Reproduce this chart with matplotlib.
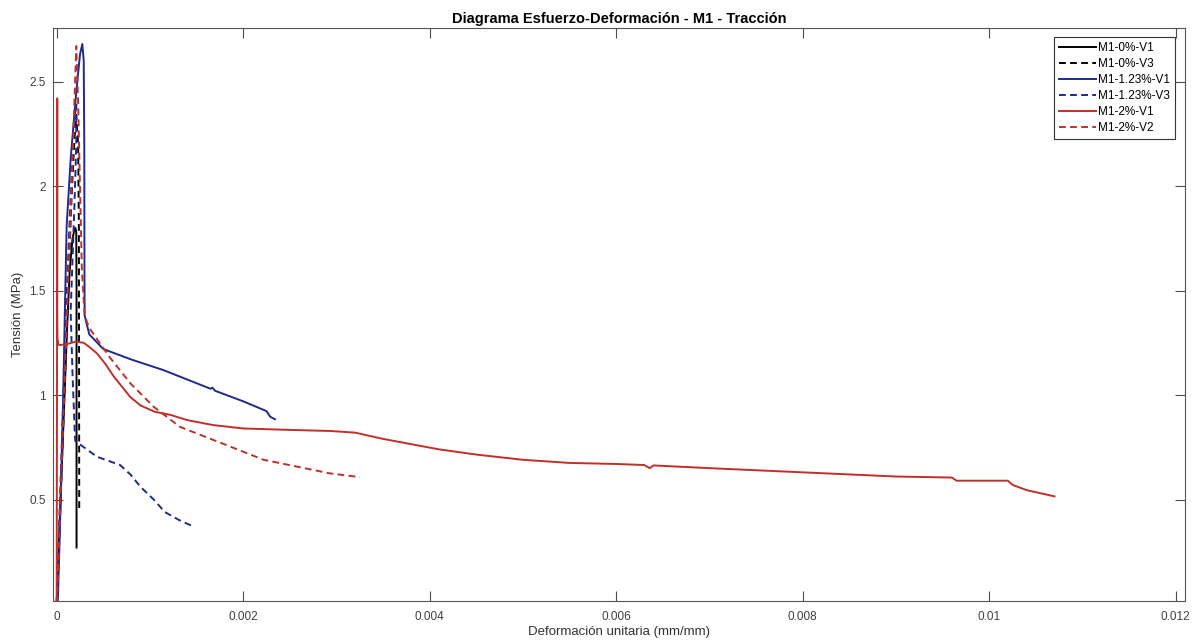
import matplotlib.pyplot as plt

# datos (deformacion, tension)
m0_v1_x = [0.0, 0.00002, 0.00005, 0.00008, 0.00011, 0.00014, 0.00017, 0.00019, 0.0002, 0.00021, 0.000213, 0.000213, 0.000213]
m0_v1_y = [0.0, 0.25, 0.6, 0.95, 1.3, 1.6, 1.75, 1.79, 1.80, 1.78, 1.5, 0.8, 0.27]

m0_v3_x = [0.0, 0.00002, 0.00005, 0.00009, 0.00013, 0.00016, 0.00019, 0.00021, 0.00023, 0.000238, 0.00024, 0.000241, 0.000242]
m0_v3_y = [0.0, 0.2, 0.6, 1.1, 1.6, 1.95, 2.22, 2.34, 2.2, 1.8, 1.2, 0.8, 0.45]

m123_v1_x = [0.00001, 0.000015, 0.000043, 0.00007, 0.00009, 0.000107, 0.00015, 0.00021, 0.00025, 0.000275, 0.00029,
             0.000296, 0.000298, 0.0003, 0.00035, 0.0005, 0.0008, 0.00114, 0.00165, 0.00167, 0.0017, 0.002, 0.00225,
             0.00229, 0.00234]
m123_v1_y = [0.0, 0.05, 0.5, 1.0, 1.45, 1.81, 2.13, 2.45, 2.63, 2.68, 2.6, 2.2, 1.6, 1.38, 1.29, 1.22, 1.17, 1.12,
             1.03, 1.035, 1.02, 0.97, 0.923, 0.896, 0.884]

m123_v3_x = [0.0, 0.00002, 0.00005, 0.00008, 0.00011, 0.00014, 0.00017, 0.00019, 0.00021, 0.00021, 0.00019, 0.00017,
             0.00015, 0.00017, 0.000196, 0.0002, 0.00043, 0.00068, 0.00079, 0.0009, 0.00104, 0.00116, 0.00132, 0.00147]
m123_v3_y = [0.0, 0.3, 0.7, 1.1, 1.5, 1.85, 2.15, 2.32, 2.39, 2.2, 1.9, 1.65, 1.4, 1.1, 0.8, 0.78, 0.705, 0.665,
             0.62, 0.56, 0.5, 0.44, 0.40, 0.37]

m2_v1_x = [0.0, 0.000004, 0.000006, 0.000006, 0.000008, 0.00002, 0.00005, 0.00012, 0.0002, 0.00029, 0.00035, 0.00043,
           0.00052, 0.00061, 0.0007, 0.00079, 0.0009, 0.00105, 0.00122, 0.0014, 0.00168, 0.002, 0.0025, 0.00293,
           0.0032, 0.0035, 0.0038, 0.0041, 0.0045, 0.005, 0.0055, 0.006, 0.0063, 0.00636, 0.0064, 0.007, 0.0075,
           0.008, 0.0085, 0.009, 0.0096, 0.00965, 0.0102, 0.01025, 0.0104, 0.0106, 0.0107]
m2_v1_y = [0.0, 1.2, 2.42, 1.4, 1.27, 1.24, 1.24, 1.245, 1.255, 1.25, 1.23, 1.2, 1.15, 1.09, 1.04, 0.99, 0.95, 0.92,
           0.905, 0.88, 0.856, 0.84, 0.833, 0.828, 0.82, 0.79, 0.765, 0.74, 0.715, 0.69, 0.675, 0.67, 0.665, 0.65,
           0.663, 0.65, 0.64, 0.63, 0.62, 0.61, 0.605, 0.59, 0.59, 0.57, 0.545, 0.525, 0.515]

m2_v2_x = [0.0, 0.00001, 0.00004, 0.00008, 0.00012, 0.00016, 0.00019, 0.00021, 0.00023, 0.00025, 0.00027, 0.0003,
           0.00035, 0.00039, 0.00057, 0.00079, 0.00104, 0.00132, 0.00168, 0.00222, 0.00293, 0.00325]
m2_v2_y = [0.0, 0.1, 0.5, 1.0, 1.5, 2.0, 2.4, 2.67, 2.4, 2.0, 1.6, 1.38, 1.32, 1.295, 1.18, 1.056, 0.944, 0.848,
           0.785, 0.69, 0.625, 0.607]

xticks = [0, 0.002, 0.004, 0.006, 0.008, 0.01, 0.012]
xtick_labels = ['0', '0.002', '0.004', '0.006', '0.008', '0.01', '0.012']
yticks = [0.5, 1, 1.5, 2, 2.5]
ytick_labels = ['0.5', '1', '1.5', '2', '2.5']

plt.rcParams['font.family'] = ['Liberation Sans', 'DejaVu Sans']

azul = '#1f2a8c'
rojo = '#c0302a'
dash = (3.5, 2.2)

fig = plt.figure(figsize=(11.97, 6.43), dpi=100)
ax = fig.add_axes([0.044, 0.0649, 0.946, 0.8911])

ax.plot(m0_v1_x, m0_v1_y, color='black', lw=1.4, label='M1-0%-V1')
ax.plot(m0_v3_x, m0_v3_y, color='black', lw=1.4, dashes=dash, label='M1-0%-V3')
ax.plot(m123_v1_x, m123_v1_y, color=azul, lw=1.4, label='M1-1.23%-V1')
ax.plot(m123_v3_x, m123_v3_y, color=azul, lw=1.4, dashes=dash, label='M1-1.23%-V3')
ax.plot(m2_v1_x, m2_v1_y, color=rojo, lw=1.4, label='M1-2%-V1')
ax.plot(m2_v2_x, m2_v2_y, color=rojo, lw=1.4, dashes=dash, label='M1-2%-V2')

ax.set_xlim(-0.000043, 0.0121)
ax.set_ylim(0.013, 2.755)
ax.set_xticks(xticks)
ax.set_xticklabels(xtick_labels)
ax.set_yticks(yticks)
ax.set_yticklabels(ytick_labels)

ax.tick_params(direction='in', length=7, width=0.8, color='#4d4d4d', labelcolor='#404040',
               labelsize=8.5, top=True, right=True)
ax.tick_params(axis='x', pad=7)
ax.tick_params(axis='y', pad=5)
for s in ax.spines.values():
    s.set_color('#555555')
    s.set_linewidth(0.8)

ax.set_title('Diagrama Esfuerzo-Deformación - M1 - Tracción', fontsize=10.5, fontweight='bold', pad=4)
ax.set_xlabel('Deformación unitaria (mm/mm)', fontsize=9.5, color='#333333', labelpad=2)
ax.set_ylabel('Tensión (MPa)', fontsize=9.5, color='#333333', labelpad=4)

leg = ax.legend(loc='upper right', bbox_to_anchor=(0.991, 0.985), borderaxespad=0, fontsize=8.5,
                fancybox=False, framealpha=1, edgecolor='#333333', handlelength=3.1,
                handletextpad=0.15, labelspacing=0.33, borderpad=0.45)
leg.get_frame().set_linewidth(0.8)

plt.savefig('out.png', dpi=100)
